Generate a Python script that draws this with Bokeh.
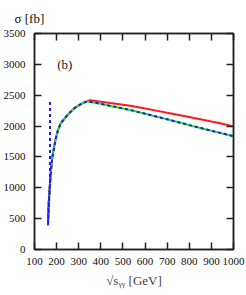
from bokeh.plotting import figure
from bokeh.models import LinearAxis, FixedTicker, Range1d, Label, CustomJSTickFormatter
from bokeh.embed import file_html
from bokeh.resources import INLINE

# --- data ---
rise_x = [161, 163, 165, 169, 175, 181, 190, 196, 205, 218, 233, 248, 263, 278, 293, 308, 323, 338]
rise_y = [393, 650, 800, 1013, 1300, 1500, 1680, 1796, 1920, 2039, 2110, 2173, 2230, 2282, 2320, 2351, 2380, 2400]

tail_x = [350, 400, 450, 500, 540, 600, 650, 700, 764, 800, 850, 900, 950, 1000]
red_tail = [2420, 2395, 2370, 2345, 2324, 2285, 2250, 2215, 2173, 2147, 2110, 2073, 2037, 1995]
green_tail = [2395, 2360, 2322, 2285, 2254, 2200, 2155, 2110, 2049, 2015, 1970, 1925, 1880, 1835]

spike_x = [170, 170]
spike_y = [2390, 1100]

x_ticks = [100, 200, 300, 400, 500, 600, 700, 800, 900, 1000]
y_ticks = [0, 500, 1000, 1500, 2000, 2500, 3000, 3500]

red_x = rise_x + tail_x
red_y = rise_y + red_tail
green_x = rise_x + tail_x
green_y = rise_y + green_tail
blue_x = spike_x + rise_x + tail_x
blue_y = spike_y + rise_y + green_tail

FONT = "Liberation Serif"
AX_COL = "#222222"

p = figure(width=246, height=295, output_backend="svg", toolbar_location=None,
           x_range=Range1d(100, 1000), y_range=Range1d(0, 3500),
           min_border_left=32, min_border_right=13, min_border_top=33, min_border_bottom=46,
           x_axis_label="√sᵧᵧ [GeV]", title="σ [fb]")
p.title.align = "left"
p.title.offset = -20
p.title.text_font = FONT
p.title.text_font_style = "normal"
p.title.text_font_size = "13px"
p.title.text_color = "#111111"
p.title.standoff = 15
p.xgrid.visible = False
p.ygrid.visible = False
p.outline_line_color = AX_COL
p.outline_line_width = 1.5

def style_axis(ax, ticks, show_labels):
    ax.ticker = FixedTicker(ticks=ticks)
    ax.major_tick_in = 7
    ax.major_tick_out = 0
    ax.minor_tick_in = 0
    ax.minor_tick_out = 0
    ax.axis_line_color = AX_COL
    ax.axis_line_width = 1.5
    ax.major_tick_line_color = AX_COL
    ax.major_tick_line_width = 1.5
    ax.major_label_text_font = FONT
    ax.major_label_text_font_size = "11px"
    ax.major_label_text_color = "#111111"
    if not show_labels:
        ax.formatter = CustomJSTickFormatter(code="return ''")
        ax.major_label_standoff = 0

style_axis(p.xaxis[0], x_ticks, True)
style_axis(p.yaxis[0], y_ticks, True)
p.xaxis[0].major_label_standoff = 8
p.yaxis[0].major_label_standoff = 9
p.xaxis[0].axis_label_text_font = FONT
p.xaxis[0].axis_label_text_font_style = "normal"
p.xaxis[0].axis_label_text_font_size = "13px"
p.xaxis[0].axis_label_standoff = 5

top = LinearAxis()
right = LinearAxis()
style_axis(top, x_ticks, False)
style_axis(right, y_ticks, False)
p.add_layout(top, "above")
p.add_layout(right, "right")

p.line(red_x, red_y, line_color="#ff1a1a", line_width=2)
p.line(green_x, green_y, line_color="#22dd22", line_width=2)
p.line(blue_x, blue_y, line_color="#1a1aff", line_width=2, line_dash="3 3")

p.add_layout(Label(x=203, y=2870, text="(b)", text_font=FONT, text_font_size="13px",
                   text_color="#222222"))

open("out.html", "w").write(file_html(p, INLINE))
